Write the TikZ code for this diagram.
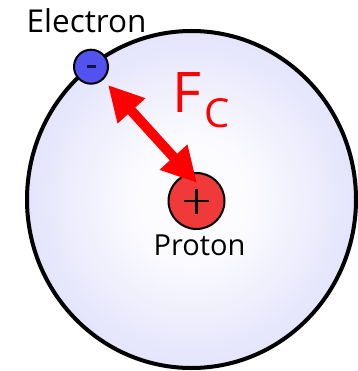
\documentclass[tikz,border=0pt]{standalone}
\usepackage{fontspec}
\setmainfont{Open Sans}
\usetikzlibrary{arrows.meta}
\definecolor{lav}{RGB}{192,192,246}
\definecolor{lavc}{RGB}{252,252,255}
\definecolor{eblue}{RGB}{82,82,238}
\definecolor{pred}{RGB}{240,58,58}
\definecolor{fred}{RGB}{255,0,0}
\definecolor{navy}{RGB}{20,20,70}
\pgfdeclareradialshading{atomshade}{\pgfpoint{0bp}{0bp}}{color(0bp)=(lavc); color(8bp)=(lavc); color(50bp)=(lav)}
\tikzset{
  particle/.style={circle, draw=black, line width=2pt, inner sep=0pt},
  lbl/.style={inner sep=0pt, anchor=base west},
  force/.style={draw=fred, line width=10pt, {Triangle[length=35pt,width=35pt]}-{Triangle[length=35pt,width=35pt]}}
}
\begin{document}
\begin{tikzpicture}[x=1pt,y=-1pt]
\useasboundingbox (0,0) rectangle (357,371);
\path[shading=atomshade, draw=black, line width=4pt] (191.5,199.5) ellipse [x radius=164.5pt, y radius=168.5pt];
\node[particle, fill=eblue, minimum size=34pt] (e) at (91,66.7) {};
\draw[navy, line width=2.5pt] ([xshift=-4.5pt]e.center) -- ([xshift=4.5pt]e.center);
\node[particle, fill=pred, minimum size=56pt] (p) at (196.5,201) {};
\draw[black, line width=2.6pt] ([xshift=-12.5pt]p.center) -- ([xshift=12.5pt]p.center);
\draw[black, line width=2.6pt] ([yshift=-12.5pt]p.center) -- ([yshift=12.5pt]p.center);
\coordinate (t1) at (108,85);
\coordinate (t2) at (197,183);
\draw[force] (t1) -- (t2);
\node[lbl, font=\fontsize{31.5}{31.5}\selectfont] (el) at (26.5,33) {Electron};
\node[lbl, font=\fontsize{29}{29}\selectfont] (pl) at (153.5,255) {Proton};
\node[lbl, text=fred, font=\fontsize{56}{56}\selectfont] (F) at (172,113) {F};
\node[lbl, text=fred, font=\fontsize{40}{40}\selectfont] (C) at (204,128) {C};
\end{tikzpicture}
\end{document}
